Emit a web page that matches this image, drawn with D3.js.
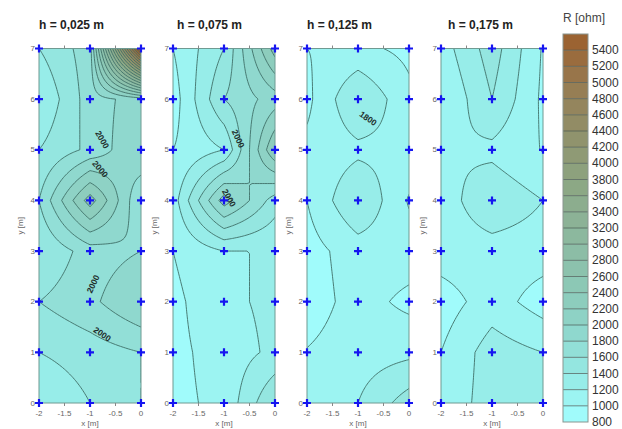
<!DOCTYPE html>
<html><head><meta charset="utf-8">
<script src="https://cdn.jsdelivr.net/npm/d3@7"></script>
<style>body{margin:0;background:#fff} svg{display:block}</style>
</head><body><svg id="c" width="622" height="429"></svg>
<script>
// ---------- data ----------
const titles = ["h = 0,025 m", "h = 0,075 m", "h = 0,125 m", "h = 0,175 m"];
const xGrid = [-2, -1, 0];
const yGrid = [0, 1, 2, 3, 4, 5, 6, 7];
const xTicks = [-2, -1.5, -1, -0.5, 0];
const xTickLabels = ["-2", "-1.5", "-1", "-0.5", "0"];
const yTicks = [0, 1, 2, 3, 4, 5, 6, 7];
// rows: y = 0..7 ; columns: x = -2, -1, 0   (R in ohm)
const h025 = [
  [1200, 1400, 1600],
  [1400, 1500, 1600],
  [1600, 1750, 2000],
  [1400, 1700, 1800],
  [1600, 2500, 1600],
  [1400, 1650, 2000],
  [1200, 1700, 1900],
  [1400, 1700, 6000]
];
const h075 = [
  [950, 1050, 1600],
  [950, 1080, 1250],
  [950, 1150, 1250],
  [1000, 1200, 1200],
  [1100, 2100, 1500],
  [1000, 1200, 2400],
  [900, 1600, 1900],
  [1000, 1400, 2500]
];
const h125 = [
  [1050, 1200, 1500],
  [1010, 1100, 1150],
  [900, 1080, 950],
  [920, 1100, 1100],
  [1000, 1400, 980],
  [1050, 1150, 1150],
  [950, 1400, 1050],
  [1000, 1050, 950]
];
const h175 = [
  [1050, 1300, 1300],
  [1000, 1300, 1200],
  [900, 1100, 900],
  [1100, 1120, 1100],
  [1100, 1350, 1200],
  [1190, 1150, 990],
  [990, 1400, 960],
  [1100, 1500, 980]
];
const panelsData = [h025, h075, h125, h175];
// contour labels: [x, y, angle, text]
const labels025 = [[-0.76, 5.2, 60, "2000"], [-0.8, 4.62, 50, "2000"], [-0.94, 2.35, -65, "2000"], [-0.76, 1.36, 35, "2000"]];
const labels075 = [[-0.72, 5.22, 65, "2000"], [-0.9, 4.05, 60, "2000"]];
const labels125 = [[-0.8, 5.62, 35, "1800"]];
const labels175 = [];
const panelLabels = [labels025, labels075, labels125, labels175];
const levels = d3.range(800, 5601, 200);
const barTicks = d3.range(800, 5401, 200);
const colorStops = [800, 1400, 2000, 2600, 3200, 3800, 4400, 5000, 5600];
const colorVals = ["#a2ffff", "#95e9e5", "#8ed5c9", "#8cc5b1", "#8cb59a", "#8ca581", "#918f69", "#977a50", "#9c5e2c"];

// ---------- layout ----------
const svg = d3.select("#c");
const lefts = [39, 173, 307, 441];
const titleX = [39, 177, 307, 448];
const W = 102, plotTop = 48.5, plotBottom = 403;
const color = d3.scaleLinear().domain(colorStops).range(colorVals);
const lineColor = "#3f6f68";

const step = 0.05;
const nx = Math.round((xGrid[2] - xGrid[0]) / step) + 1;
const ny = Math.round((yGrid[7] - yGrid[0]) / step) + 1;

function bilinear(grid, x, y) {
  const fx = (x - xGrid[0]) / (xGrid[1] - xGrid[0]);
  const fy = (y - yGrid[0]) / (yGrid[1] - yGrid[0]);
  let i = Math.min(Math.floor(fx), xGrid.length - 2), j = Math.min(Math.floor(fy), yGrid.length - 2);
  const tx = fx - i, ty = fy - j;
  return grid[j][i] * (1 - tx) * (1 - ty) + grid[j][i + 1] * tx * (1 - ty) +
         grid[j + 1][i] * (1 - tx) * ty + grid[j + 1][i + 1] * tx * ty;
}

panelsData.forEach((grid, p) => {
  const left = lefts[p];
  const sx = d3.scaleLinear().domain([-2, 0]).range([left, left + W]);
  const sy = d3.scaleLinear().domain([0, 7]).range([plotBottom, plotTop]);
  const g = svg.append("g");
  const clipId = "clip" + p;
  svg.append("clipPath").attr("id", clipId).append("rect")
    .attr("x", left).attr("y", plotTop).attr("width", W).attr("height", plotBottom - plotTop);

  const vals = new Array(nx * ny);
  for (let j = 0; j < ny; j++) for (let i = 0; i < nx; i++)
    vals[j * nx + i] = bilinear(grid, xGrid[0] + i * step, yGrid[0] + j * step);
  const contours = d3.contours().size([nx, ny]).thresholds(levels)(vals);
  const proj = d3.geoTransform({
    point: function (cx, cy) {
      this.stream.point(sx(xGrid[0] + (cx - 0.5) * step), sy(yGrid[0] + (cy - 0.5) * step));
    }
  });
  const path = d3.geoPath(proj);
  const cg = g.append("g").attr("clip-path", `url(#${clipId})`);
  cg.append("rect").attr("x", left).attr("y", plotTop).attr("width", W).attr("height", plotBottom - plotTop)
    .attr("fill", color(900));
  cg.selectAll("path.fill").data(contours).join("path")
    .attr("class", "fill")
    .attr("d", path)
    .attr("fill", d => color(Math.min(d.value + 100, 5600)))
    .attr("stroke", d => d.value > 800 ? lineColor : "none")
    .attr("stroke-width", 0.9);

  // border
  g.append("rect").attr("x", left).attr("y", plotTop).attr("width", W).attr("height", plotBottom - plotTop)
    .attr("fill", "none").attr("stroke", "#6f9a92").attr("stroke-width", 1);

  // contour labels
  g.selectAll("text.cl").data(panelLabels[p]).join("text")
    .attr("class", "cl")
    .attr("transform", d => `translate(${sx(d[0])},${sy(d[1])}) rotate(${d[2]})`)
    .attr("text-anchor", "middle").attr("dominant-baseline", "central")
    .attr("font-family", "Liberation Sans, Arial, sans-serif").attr("font-size", 8.5)
    .attr("font-weight", "bold").attr("fill", "#1e2e2c")
    .text(d => d[3]);

  // axes ticks
  const ax = g.append("g").attr("font-family", "Liberation Sans, Arial, sans-serif").attr("font-size", 8).attr("fill", "#666");
  ax.selectAll("text.yl").data(yTicks).join("text").attr("class", "yl")
    .attr("x", left - 4).attr("y", d => sy(d)).attr("text-anchor", "end").attr("dominant-baseline", "central")
    .text(d => d);
  ax.selectAll("line.yt").data(yTicks).join("line").attr("class", "yt")
    .attr("x1", left - 3).attr("x2", left).attr("y1", d => sy(d)).attr("y2", d => sy(d))
    .attr("stroke", "#888");
  ax.selectAll("text.xl").data(xTicks).join("text").attr("class", "xl")
    .attr("x", d => sx(d)).attr("y", plotBottom + 13).attr("text-anchor", "middle")
    .text((d, i) => xTickLabels[i]);
  ax.selectAll("line.xt").data(xTicks).join("line").attr("class", "xt")
    .attr("x1", d => sx(d)).attr("x2", d => sx(d)).attr("y1", plotBottom).attr("y2", plotBottom + 3)
    .attr("stroke", "#888");
  ax.selectAll("line.xtt").data(xTicks).join("line").attr("class", "xtt")
    .attr("x1", d => sx(d)).attr("x2", d => sx(d)).attr("y1", plotTop - 3).attr("y2", plotTop)
    .attr("stroke", "#888");
  ax.append("text").attr("x", left + W / 2).attr("y", plotBottom + 23).attr("text-anchor", "middle").text("x [m]");
  ax.append("text").attr("transform", `translate(${left - 16},${(plotTop + plotBottom) / 2}) rotate(-90)`)
    .attr("text-anchor", "middle").text("y [m]");

  // measurement points
  const pts = [];
  yGrid.forEach(y => xGrid.forEach(x => pts.push([x, y])));
  g.selectAll("path.pt").data(pts).join("path").attr("class", "pt")
    .attr("d", d => `M${sx(d[0]) - 4},${sy(d[1])}H${sx(d[0]) + 4}M${sx(d[0])},${sy(d[1]) - 4}V${sy(d[1]) + 4}`)
    .attr("stroke", "#1515f0").attr("stroke-width", 2.2);

  // title
  svg.append("text").attr("x", titleX[p]).attr("y", 29)
    .attr("font-family", "Liberation Sans, Arial, sans-serif").attr("font-size", 12).attr("font-weight", "bold")
    .attr("fill", "#222").text(titles[p]);
});

// ---------- colour bar ----------
const by = d3.scaleLinear().domain([800, 5600]).range([422, 34]);
const bx = 563, bw = 25;
const bar = svg.append("g");
const bands = levels.slice(0, -1);
bar.selectAll("rect.band").data(bands).join("rect").attr("class", "band")
  .attr("x", bx).attr("width", bw).attr("y", d => by(d + 200)).attr("height", d => by(d) - by(d + 200))
  .attr("fill", d => color(d + 100));
bar.selectAll("line.sep").data(levels.slice(1, -1)).join("line").attr("class", "sep")
  .attr("x1", bx).attr("x2", bx + bw).attr("y1", d => by(d)).attr("y2", d => by(d))
  .attr("stroke", "#4a5a55").attr("stroke-width", 1).attr("opacity", 0.7);
bar.append("rect").attr("x", bx).attr("y", by(5600)).attr("width", bw).attr("height", by(800) - by(5600))
  .attr("fill", "none").attr("stroke", "#8a9590").attr("stroke-width", 1);
bar.selectAll("text.bt").data(barTicks).join("text").attr("class", "bt")
  .attr("x", bx + bw + 4).attr("y", d => by(d)).attr("dominant-baseline", "central")
  .attr("font-family", "Liberation Sans, Arial, sans-serif").attr("font-size", 12).attr("fill", "#333")
  .text(d => d);
svg.append("text").attr("x", bx).attr("y", 22)
  .attr("font-family", "Liberation Sans, Arial, sans-serif").attr("font-size", 12).attr("fill", "#444")
  .text("R [ohm]");
</script>
</body></html>
